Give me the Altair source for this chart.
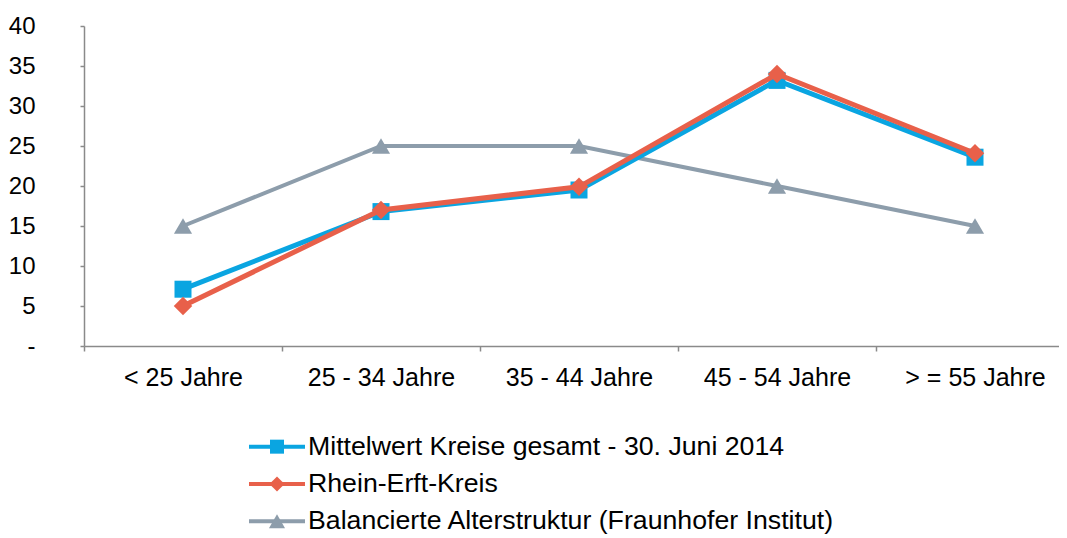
import altair as alt
import pandas as pd

categories = ["< 25 Jahre", "25 - 34 Jahre", "35 - 44 Jahre", "45 - 54 Jahre", "> = 55 Jahre"]
series_names = [
    "Mittelwert Kreise gesamt - 30. Juni 2014",
    "Rhein-Erft-Kreis",
    "Balancierte Alterstruktur (Fraunhofer Institut)",
]
mittelwert = [7.1, 16.8, 19.5, 33.2, 23.6]
rhein_erft = [5.0, 17.0, 19.9, 34.0, 24.1]
balanciert = [15, 25, 25, 20, 15]

colors = ["#0AA5E1", "#E8604A", "#8D9DAB"]
shapes = ["square", "diamond", "triangle-up"]
widths = [5, 5, 4]
sizes = [289, 340, 330]
leg_sizes = [196, 260, 240]

rows = []
for name, vals in zip(series_names, [mittelwert, rhein_erft, balanciert]):
    for c, v in zip(categories, vals):
        rows.append({"Kategorie": c, "Wert": v, "Serie": name})
df = pd.DataFrame(rows)

FONT = "Liberation Sans"

x_enc = alt.X(
    "Kategorie:N",
    sort=categories,
    scale=alt.Scale(type="band", paddingInner=0, paddingOuter=0),
    bandPosition=0.5,
    axis=alt.Axis(
        title=None, labelAngle=0, tickBand="extent", tickSize=5,
        labelPadding=14, labelFontSize=25, labelFont=FONT, labelColor="#000000",
        domainColor="#8A8A8A", tickColor="#8A8A8A", domainWidth=1.5, tickWidth=1.5,
    ),
)
y_enc = alt.Y(
    "Wert:Q",
    scale=alt.Scale(domain=[0, 40], nice=False),
    axis=alt.Axis(
        title=None, values=[0, 5, 10, 15, 20, 25, 30, 35, 40], grid=False,
        labelExpr="datum.value == 0 ? '-' : datum.label",
        tickSize=4, labelPadding=45, labelFontSize=24, labelFont=FONT,
        labelColor="#000000", domainColor="#8A8A8A", tickColor="#8A8A8A",
        domainWidth=1.5, tickWidth=1.5,
    ),
)

layers = []
for idx in [2, 0, 1]:
    name = series_names[idx]
    base = alt.Chart(df).transform_filter(alt.datum.Serie == name)
    line = base.mark_line(color=colors[idx], strokeWidth=widths[idx]).encode(x=x_enc, y=y_enc)
    pts = base.mark_point(
        color=colors[idx], filled=True, opacity=1, shape=shapes[idx], size=sizes[idx]
    ).encode(x=x_enc, y=y_enc)
    layers += [line, pts]

main = alt.layer(*layers).properties(width=990, height=320)

leg_df = pd.DataFrame({"Serie": series_names})
leg_y = alt.Y("Serie:N", sort=series_names, axis=None,
              scale=alt.Scale(type="band", paddingInner=0, paddingOuter=0))
leg_color = alt.Color("Serie:N", scale=alt.Scale(domain=series_names, range=colors), legend=None)
leg_shape = alt.Shape("Serie:N", scale=alt.Scale(domain=series_names, range=shapes), legend=None)
leg_size = alt.Size("Serie:N", scale=alt.Scale(domain=series_names, range=leg_sizes), legend=None)

leg_base = alt.Chart(leg_df)
leg_rule = leg_base.mark_rule(strokeWidth=4).encode(
    x=alt.value(165), x2=alt.value(221), y=leg_y, color=leg_color
)
leg_pt = leg_base.mark_point(filled=True, opacity=1).encode(
    x=alt.value(193), y=leg_y, color=leg_color, shape=leg_shape, size=leg_size
)
leg_text = leg_base.mark_text(
    align="left", baseline="middle", fontSize=26.7, font=FONT, color="#000000"
).encode(x=alt.value(224), y=leg_y, text="Serie:N")
legend = alt.layer(leg_rule, leg_pt, leg_text).properties(width=900, height=112)

chart = alt.vconcat(main, legend, spacing=38).properties(
    padding={"left": 0, "top": 6, "right": -16, "bottom": 0},
    background="#FFFFFF",
).configure_view(strokeWidth=0, stroke="transparent")

chart.save("out.html", embed_options={"renderer": "svg", "actions": False})
